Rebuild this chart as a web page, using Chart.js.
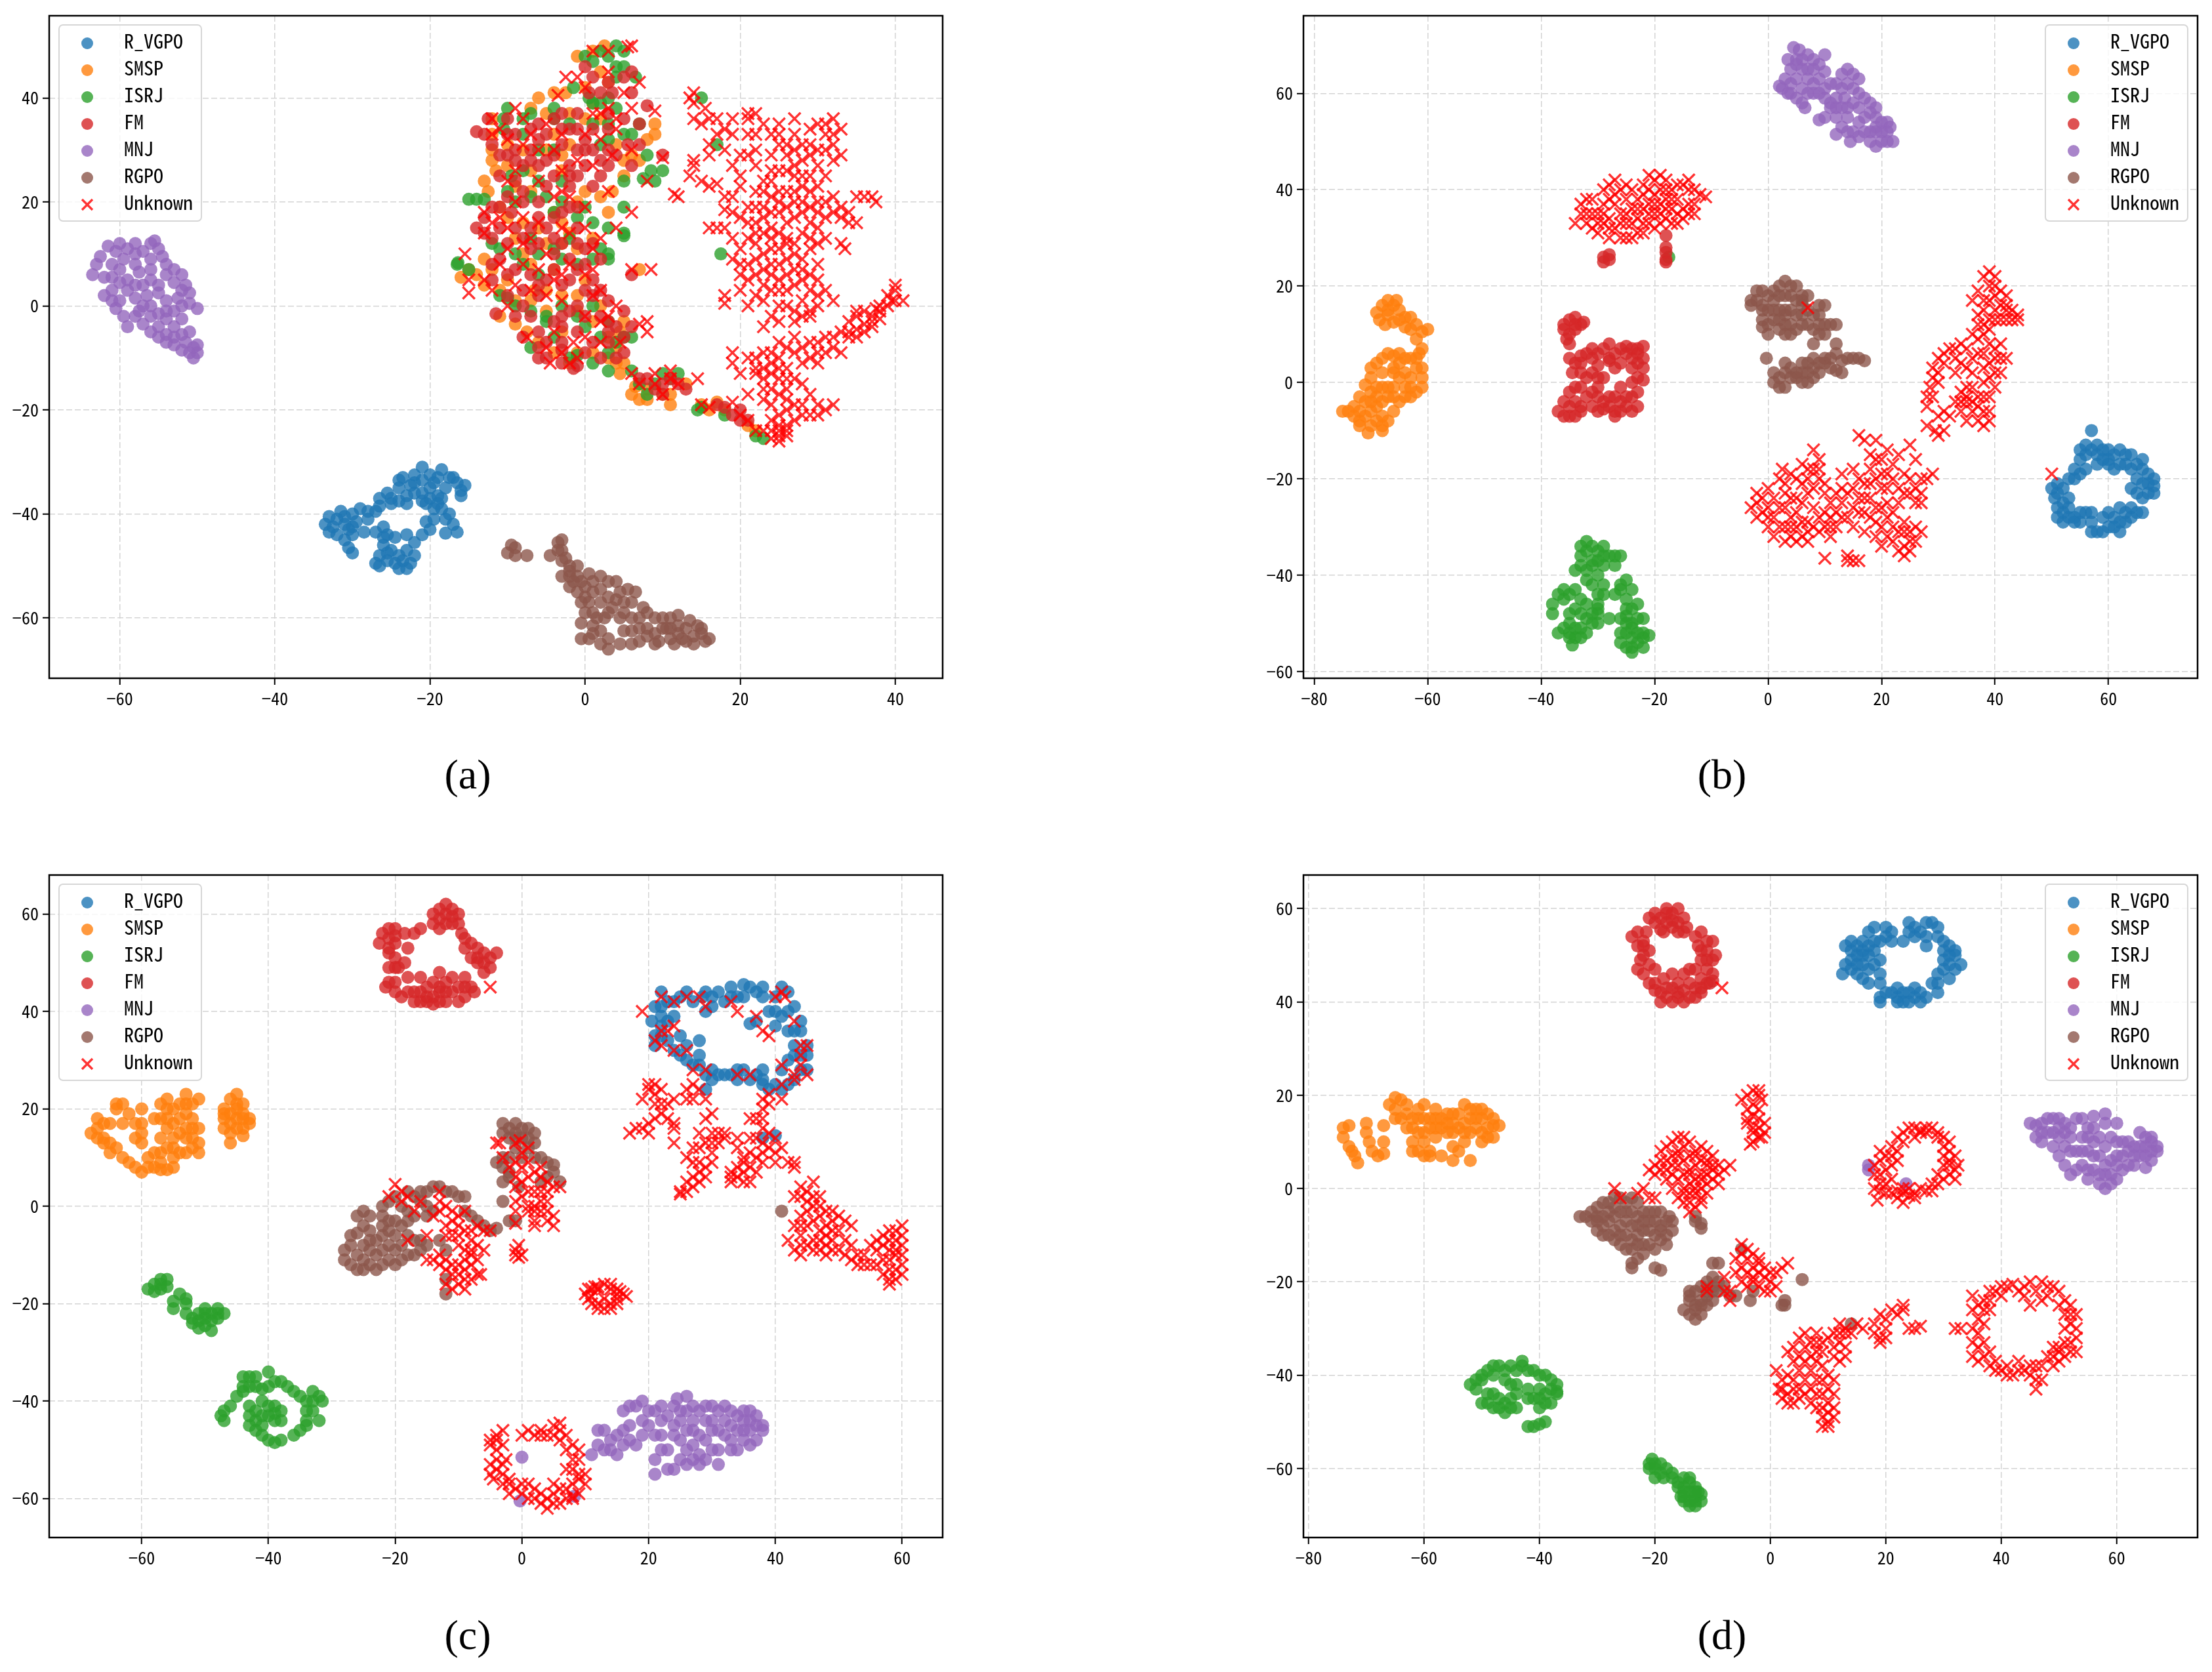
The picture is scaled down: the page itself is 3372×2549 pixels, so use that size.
<!DOCTYPE html>
<html>
<head>
<meta charset="utf-8">
<title>t-SNE panels</title>
<script src="https://cdn.jsdelivr.net/npm/chart.js@4/dist/chart.umd.min.js"></script>
<style>
    html, body { margin: 0; padding: 0; background: #fff; }
    body { position: relative; width: 3372px; height: 2549px; overflow: hidden; }
    canvas { position: absolute; }
    .caption { position: absolute; transform: translate(-50%, -50%); font: 64px 'Liberation Serif', serif; color: #000; }
</style>
</head>
<body>
<canvas id="panelA"></canvas>
<canvas id="panelB"></canvas>
<canvas id="panelC"></canvas>
<canvas id="panelD"></canvas>
<div class="caption" style="left:713px;top:1181px">(a)</div>
<div class="caption" style="left:2625px;top:1181px">(b)</div>
<div class="caption" style="left:713px;top:2493px">(c)</div>
<div class="caption" style="left:2625px;top:2493px">(d)</div>
<script>
const classLabels = ['R_VGPO', 'SMSP', 'ISRJ', 'FM', 'MNJ', 'RGPO', 'Unknown'];
const classColors = ['rgba(31,119,180,.8)', 'rgba(255,127,14,.8)', 'rgba(44,160,44,.8)', 'rgba(214,39,40,.8)', 'rgba(148,103,189,.8)', 'rgba(140,86,75,.8)', 'rgba(255,0,0,.8)'];

// Panel (a)
const aRvgpo = [[-33.5,-42],[-33,-40.5],[-33,-43.5],[-32,-41],[-32,-44],[-31.5,-39.5],[-31,-42],[-31,-45],[-30.5,-43],[-30,-40],[-30,-44],[-30.5,-46.5],[-30,-47.5],[-29.5,-41.5],[-29,-39],[-28.5,-43.5],[-28,-39.5],[-27,-39.5],[-27,-43.5],[-26,-42.5],[-25.5,-44],[-26,-46],[-26.5,-48],[-27,-49.5],[-26.5,-50],[-25.5,-49],[-25,-47],[-24.5,-44.5],[-24.5,-49.5],[-24,-50.5],[-23.5,-49],[-23,-47],[-23,-44],[-22.5,-49.5],[-22,-48],[-22,-45.5],[-21,-44],[-20,-43],[-19.5,-41],[-20.5,-41.5],[-26.5,-37],[-26.5,-38.5],[-25.5,-36],[-25,-38],[-24,-35],[-24,-37.5],[-23.5,-33],[-23,-36.5],[-22.5,-34.5],[-22,-32.5],[-22,-36],[-21,-31],[-21,-33.5],[-21,-36],[-20.5,-38],[-20,-32.5],[-20,-35],[-19.5,-39],[-19,-36.5],[-18.5,-37],[-18.5,-31.5],[-18.5,-39],[-18,-35],[-17.5,-40],[-17,-42],[-16.5,-43.5],[-18,-43.7],[-17,-33],[-16.5,-34],[-16,-35.5],[-15.5,-34.5],[-16,-36.5],[-17.5,-33],
    [-32.5,-42.5],[-31,-40.5],[-30,-42.5],[-28,-41],[-26,-44.5],[-25.5,-47.5],[-24,-48],[-23,-50.5],[-25,-37],[-24,-33.5],[-23,-38],[-22,-34],[-21,-37.5],[-20,-37],[-19.5,-34],[-19,-33],[-19,-38],[-18,-41]];
const aSmsp = [[-12,36],[-12,30],[-12,28],[-13,24],[-12.5,22],[-11,19],[-10,17],[-9,13],[-8,10],[-12,7],[-14,6],[-16,5.5],[-15,7],[-13,4],[-11,3],[-9,1],[-11,-2],[-9,-3.5],[-7.5,-5],[-6.5,3],[-6,15],[-6,40],[-7,38],[-5,30],[-3,26],[-4,18],[-2,14],[-3,12],[-1,20],[0,22],[2,21],[3.5,22],[5,25],[6,29],[7,28],[8,32],[9,35],[9,33],[7,7],[5,-3],[4.5,-5],[4,-8],[4,-11],[5,-11],[4.5,-13],[6,-17],[6.5,-15.5],[7,-18],[8,-18],[8,-16],[10,-17],[11,-19],[11,-17],[13,-15],[-1,48],[2.5,50],[1,49],[2,45],[3,43],[0,42],[1,39],[-2,37],[-2.5,41],[-4,41],[16,-20],[15,-19],[17,-18.5],[18,-20],[22,-24],[21,-23],[-1,-1],[1,-3],[-3,-5],[-1,-9],[-2,-11],[3,-6],[0,5],[-4,7],[-7,8],[-5,3],
    [-12,33],[-11.5,26],[-10,31],[-10,27],[-9,23],[-8,30],[-7,26],[-7,22],[-5,37],[-4,33],[-3,29],[-2,31],[0,36],[2,36],[4,31],[5,28],[-8,16],[-5,12],[-3,16],[-1,11],[1,13],[3,18],[-13,9],[-10,5],[-7,1],[-5,-1],[-3,2],[-1,2],[2,0],[3,-10],[1,-9],[-4,-9],[-6,-7]];
const aIsrj = [[0,48],[1,47],[2,49],[3,48],[4,50],[5,49],[4,46],[5,46],[4,44],[6.5,44],[0.5,40],[-4,38],[-1.5,42],[1,39],[2,39],[3,40],[4,38],[-10,38],[-10.5,36],[-10.5,34],[-8,36],[-4,36],[-2,35],[7,35],[3,32],[2,31],[5,33],[8,29],[8.5,26],[10,26],[9,24],[7.5,24.5],[5,24],[-6,30],[-8,33],[-9.5,25],[-8,26],[-4,30],[-15,20.5],[-14,20.5],[-13,20.5],[-10,22],[-9,20],[-3,20],[-4,18],[-1,17],[0,19],[1,16],[3,15],[5,19],[5,14],[5,13.5],[-12,12],[-11,11],[-9,10],[-7,13],[-8,8],[-6,10],[-4,11],[-3,9],[-1,8],[2,11],[3,9],[3,10],[-16.5,8],[-16.4,8.3],[-15,7],[-11,2],[-10,1.5],[-9,0],[-5,-2],[-5,-3],[0,-4],[1,0],[2,-6],[4,-7],[5,-6],[6,-6],[-7,-8],[-2,-10],[-1,-9.5],[3,-12.5],[6,-12.5],[8,-17],[12,-13],[11,-14],[15,-19.5],[14.5,-20],[17.5,10],[15,40],[17,31],[22,-25],[23,-25.5],[18,-21],
    [-7,37],[-6,24],[-3,24],[1,35],[3,35],[6,33],[-7,21],[-5,21],[-2,13],[1,9],[-6,6],[-3,0],[-1,-2],[-7,-1],[-4,-6],[1,-11],[3,-3],[3,-9],[9,-15],[10,-13],[7,-15]];
const aFm = [[-14,33.5],[-13,33],[-12,31],[-12.5,36],[-11,29],[-11,25],[-10,33],[-9,30],[-9,28],[-9,24],[-7,34],[-7,30],[-6,27],[-6,35],[-5,33],[-4,29],[-4,25],[-3,34],[-3,31],[-2,27],[-2,23],[-1,30],[-1,34],[0,27],[0,32],[1,23],[1,34],[2,28],[3,37],[3,30],[3,43],[1,44],[0,46],[0.5,41],[2,41],[3.5,41],[5,44],[6,45],[6,41],[5,36],[5.5,31],[6,27],[7,35],[8,38.5],[10,29],[-14,15],[-13,17],[-12,13],[-11,15],[-11,19],[-9.5,18],[-8,20],[-7,15],[-6,17],[-6,12],[-5,15],[-4,13],[-3,18],[-2,19],[-1,15],[-2,9],[0,8],[-11,9],[-12,8],[-12,5],[-10,6],[-8,3],[-7,6],[-6,2],[-5,5],[-4,7],[-3,4],[-2,5],[-1,7],[0,3],[1,5],[2,3],[3,1],[-11.5,-1.5],[-9,-2],[-8,-6],[-6,-5],[-6,-10],[-4,-3],[-3,-7],[-3,-8.5],[-2,-1],[-1,-5],[-1,-11.5],[-1.5,-12],[0,-2],[1,-7],[3,-3],[3,-7],[4,-4],[5,-9],[6,6],[5,-6],[7,-14],[8,-14],[9,-16],[10,-15],[10,-17],[11,-14],[12,-15],[13,-16],[17,-19],[18,-19.5],[19,-21],[20,-20],[20,-22],[21,-22],
    [-10,36],[-8,27],[-5,23],[-4,36],[-1,37],[-1,25],[2,25],[3,34],[4,29],[7,31],[-10,21],[-12,19],[-9,15],[-7,11],[-4,17],[-1,19],[1,12],[2,9],[-10,2],[-7,-2],[-5,-7],[-3,-11],[-1,0],[2,-10],[3,-5],[5,-1],[6,-4],[4,-10],
    [-9,33],[-7,28],[-3,37],[-2,34],[0,30],[1,30],[3,27],[-6,32],[-10,29],[-5,28],[-2,25],[-8,22],[-6,20],[-13,14],[-10,12],[-8,13],[-4,10],[-3,12],[-1,12],[0,11],[-9,7],[-6,4],[-3,-2],[0,-9],[2,-2],[-5,-10],[-3,-4],[1,2],[-8,0],[-6,-8]];
const aMnj = [[-63.5,6],[-63,8],[-62.5,9.5],[-61.5,11.5],[-60.5,10.5],[-59.5,9],[-59,11],[-58,12],[-57,10.5],[-56,12],[-55.5,12.5],[-55,11],[-54.5,9.5],[-56,9],[-58,8],[-60,7],[-61,5.5],[-59,5],[-57.5,6.5],[-56,7],[-54,8],[-53,7],[-52,6],[-51.5,4],[-53,4.5],[-55,4],[-57,4],[-59,3],[-61,3],[-62,2],[-60,1],[-58,1.5],[-56.5,2],[-60.5,-0.5],[-59.5,-2],[-59,-4],[-57,-3.5],[-57.5,-1],[-56,0],[-55,-1.5],[-55,-4],[-54,-2.5],[-53,-1],[-54,1],[-52.5,1.5],[-51,0.5],[-50,-0.5],[-51,2.5],[-52,-2.5],[-53,-4],[-55,-6],[-54,-5.5],[-52,-5.5],[-53,-7.5],[-51.5,-7],[-50.5,-8],[-50,-9],[-51,-9],[-52,-8.5],[-50,-7.5],[-50.5,-10],[-56,-5],
    [-62,5.5],[-61,8],[-60,12],[-58,10],[-56,5],[-54,6],[-58,4],[-60,4.5],[-61,1],[-58,-2],[-56,-2],[-57,0],[-54,-1],[-52,0],[-52,3],[-53,-6],[-54,-7],[-51,-5],[-55,2.5]];
const aRgpo = [[-10,-47.5],[-9.5,-46],[-9,-48],[-9,-46.5],[-7.5,-48],[-4.5,-48],[-3.5,-47],[-3.5,-45.5],[-3,-45],[-3,-47],[-3,-49],[-2.5,-48.5],[-2,-50],[-3,-52],[-2,-52],[-1,-50],[-1,-52],[-2,-54],[-1,-55],[-0.5,-53],[-0.5,-57],[0.5,-51.5],[1,-53],[1,-55],[0.5,-57],[1,-59],[0,-59],[2,-52],[2,-54.5],[2,-57],[2.5,-60],[3,-53],[3,-56],[3.5,-58],[4,-53],[4.5,-55],[4.5,-60],[5,-57],[5.5,-54.5],[6,-57],[6,-60],[6.5,-55],[7,-62],[7.5,-58],[8,-59],[8,-62],[9,-60],[9,-63],[10,-60],[10.5,-62],[11,-60],[11,-64],[12,-59.5],[12,-61.5],[12.5,-64],[13,-62],[13.5,-60.5],[14,-63.5],[14.5,-61.5],[15,-63],[15.5,-64.5],[16,-64],[-0.5,-64],[-0.5,-61],[0.5,-64],[1,-61.5],[2,-65],[3,-66],[3,-64],[4.5,-65],[5,-62.5],[6,-65],[9,-65],[9.5,-64.5],[11.5,-65],[14,-65],
    [-2,-51],[-1.5,-53],[0,-54],[0,-56],[1.5,-60],[3,-59],[4,-56.5],[5,-59],[7,-60],[8,-63.5],[10,-62],[12,-63],[13,-64.5],[15,-62],[1,-63],[2,-62.5],[6,-62.5],[7,-64.5],[11,-62]];
const aUnknown = [[1,49],[3,49],[6,50],[5.5,49.8],[-2.5,44],[0,42],[-3.5,40.5],[-1,44],[1,37],[3,38],[4,36],[7,43],[6,38],[9,37.5],[-12,33],[-12,36],[-10,32],[-9,38],[-8,36],[-7,33],[-5,35],[-4,30],[-3,26],[-1,28],[1,27],[2,32],[3.5,29],[4,34],[6,30],[8,24],[-9,20],[-8,17],[-11,17],[-12,16],[-13,18],[-10,15],[-7,13],[-6,16],[-4,21],[-3,15],[-2,21],[0,15],[2,13],[4,15],[6,18],[-15.5,10],[-15,5],[-15,2.5],[-13,5],[-11,8],[-9,4],[-8,8],[-6,7],[-5,2],[-4,5],[-3,6],[-2,8],[0,6],[1,7],[2,3],[4,0],[6,7],[8.5,7],[7,-3.5],[8,-5],[8,-3],[4.5,-7],[2,-7],[-1,-10],[-1.5,-7],[-2,-11],[-4.5,-11],[-5,-8],[-7.5,-6],[0,-2],[2,-3],[6,-13],[7,-15],[9,-13],[9,-15],[10,-17],[11,-12.5],[11,-14],[12,-15],[14.5,-14],[15,-19],[16,-19.5],[19,-18.5],[20,-21],[21,-22],[22,-24],[23,-24],[10,28.5],[11.5,21.5],[12,21],
    [14,41],[14,39],[13.5,40],[14,36],[15.5,38],[16,36],[17,33],[16,31],[16,29],[18,34],[19,36],[19,33],[21,37],[21,36],[22,37],[22,30],[20,29],[21,29],[19,27],[21,33],[24,33],[25,35],[25,33],[25,31],[27,36],[27,33],[28,31],[29,31],[30,35],[31,33],[31,35],[32,33],[32,36],[33,34],[30,30],[31,30],[32,28],[32,31],[29,34],[14,28],[14,27],[13.5,25],[15,24],[17,23.5],[16,23],[16,15],[17,15],[18,21],[18,18.5],[19,18],[20,17],[21,16],[21,19],[22,14],[22,12],[23,19],[23,22],[24,21],[25,22],[25,18],[26,22],[26,26],[27,27],[28,25],[27,22],[27,20],[28,18],[29,25],[30,23],[31,25],[30,18],[31,17],[32,18],[33,17],[34,18],[35,21],[36,21],[37,21],[37.5,20],[35,16],[33,12],[33.5,11],[31,13],[30,12],[24,18],[23,14],[25,14],[25,11],[24,8],[26,9],[27,12],[28,14],[28,9],[29,11],[30,8],[20,8],[21,8],[21,5],[22,6],[23,4],[24,6],[25,3],[26,6],[27,4],[28,7],[29,3],[30,2],[31,3],[32,1],[26,0],[27,-1],[27,-3],[29,-2],[29,-1],[30,0],[24,-2],[18,2],[18,0.5],[22,2],[20,3],
    [19,-9],[19,-11],[20,-13],[21,-10],[22,-12],[23,-9],[23,-14],[24,-11],[25,-14],[25,-10],[26,-16],[26,-12],[27,-9],[27,-14],[28,-8],[28,-11],[29,-17],[29,-10],[30,-7],[30,-11],[31,-9],[32,-6],[33,-9],[33,-5],[34,-3],[34,-6],[35,-2],[35,-4.5],[36,-1],[36,-3.5],[37,-2],[37,-4],[38,-1],[38,-2.5],[39,0],[39.5,1],[40,3],[40,1],[41,1],[40,4],[36,-5],[35,-1],[37.5,-0.5],[22,-13],[23,-16],[24,-19],[24,-16],[25,-17],[26,-20],[27,-19],[27,-22],[28,-21],[29,-21],[30,-21],[32,-19],[31,-20],[25,-25],[25,-24],[25,-26],[24,-24],[26,-25],[26,-23],[24,-25.5],[25,-23],[21,-17],
    [19,21],[20,23],[22,22],[22,19],[23,24],[24,24],[24,26],[25,26],[26,29],[27,30],[28,28],[27,25],[28,23],[29,22],[25,20],[26,19],[26,16],[27,17],[28,20],[29,19],[29,16],[24,15],[23,17],[22,16],[21,13],[20,11],[19,9],[20,6],[22,9],[23,10],[23,7],[24,11],[25,8],[26,12],[27,7],[27,10],[28,5],[29,6],[30,5],[26,3],[24,3],[23,1],[25,0],[28,1],[28,-2],[25,-3],[30,20],[32,21],[33,19],[34,16],[30,27],[33,29],[29,29],[26,31],[23,35],[22,33],[18,30],[17,36],[15,35],[23,-12],[24,-13],[24,-9],[25,-7],[26,-8],[27,-6],[25,-12],[26,-14],[23,-18],[26,-18],[28,-15],[22,-10],[29,-7],[30,-9],[31,-6],[32,-8],[34,-5],[35,-6],[37,-3],[38,0],[39,2],[25,-21],[26,-24],[24,-22],[28,-19],[30,-19],
    [-11,34],[-8,31],[-6,30],[-3,33],[0,33],[2,37],[5,41],[3,45],[-10,24],[-9,26],[-6,24],[-3,22],[0,19],[3,22],[-13,14],[-10,11],[-8,12],[-5,10],[-2,14],[1,11],[-12,3],[-10,0],[-7,3],[-3,1],[1,2],[3,-2],[-4,-5],[-3,-9],[0,-6],[22,27],[24,29],[20,25],[18,15],[19,13],[24,13],[25,5],[26,13],[31,20],[29,13],[30,15],[23,-4],[21,0]];

// Panel (b)
const bRvgpo = [[50,-22],[50.5,-24],[51,-21],[51,-26],[51,-28],[52,-22],[52,-25],[52,-29],[53,-20],[53,-24],[53,-28],[54,-18],[54,-28],[55,-19],[55,-14],[55,-29],[56,-15],[56,-18],[56,-27],[57,-10],[57,-14],[57,-29],[58,-13],[58,-17],[58,-31],[59,-16],[59,-28],[59,-31],[60,-14],[60,-17],[60,-27],[60,-30],[61,-15],[61,-18],[61,-30],[62,-14],[62,-17],[62,-29],[62,-26],[63,-17],[63,-27],[64,-15],[64,-18],[64,-22],[64,-26],[65,-17],[65,-20],[65,-23],[65,-27],[66,-18],[66,-21],[66,-24],[66,-27],[67,-19],[67,-23],[68,-20],[68,-21.5],[67,-21],[68,-23],
    [51,-23],[52,-27],[53,-26],[54,-29],[55,-27],[57,-27],[57,-31],[58,-15],[59,-14],[60,-16],[61,-28],[62,-31],[63,-15],[63,-29],[64,-28],[66,-16],[56,-13],[55,-16],[54,-20]];
const bSmsp = [[-69,14.5],[-68.5,13],[-68,16],[-67,15],[-67,17],[-66,16],[-65.5,17],[-65,15],[-67.5,12],[-66,12.5],[-65,13],[-64,11.5],[-63,13.5],[-63,11],[-62,12],[-62,9],[-61,10.5],[-60,11],[-61,7],[-61.5,6],[-64,5],[-66,5.5],[-67,6],[-68,5],[-69,4],[-70,3],[-65,4],[-63,5],[-62,3],[-61,3],[-61,1],[-61,-1],[-62,-2],[-63,1],[-64,-1],[-63,-3],[-65,1],[-66,3],[-68,2],[-70,1],[-71,-0.5],[-72,-3],[-71,-4],[-70,-2],[-68,-1],[-66,-1],[-65,-4],[-66,-6],[-67,-8],[-69,-5],[-69,-8],[-70,-9],[-71,-7],[-72,-6],[-73,-5],[-72,-8],[-74,-6],[-75,-6],[-70.5,-10.5],[-72,-9],[-68,-10],[-68,-7],[-67,-3],[-69,-3],
    [-67,14],[-64,13.5],[-66,2],[-64,2],[-67,-1],[-66,-3],[-68,-4],[-64,-3],[-70,-6],[-69,-1],[-62,5],[-68,-9],[-63,-1],[-65,6],[-70,-4],[-73,-7]];
const bIsrj = [[-33,-34],[-32,-33],[-31,-34],[-30,-35],[-29,-34],[-29,-36],[-28,-36],[-27,-36],[-26,-36],[-27,-38],[-29,-38],[-31,-37],[-31,-38],[-33,-38],[-34,-39],[-32,-39],[-30,-40],[-31,-42],[-29,-42],[-30,-44],[-36,-43],[-35,-44],[-36,-45],[-34,-43],[-25,-41],[-26,-43],[-27,-44],[-25,-45],[-24,-43],[-38,-46],[-38,-48],[-33,-45],[-32,-46],[-30,-47],[-32,-49],[-30,-50],[-33,-51],[-35,-50],[-36,-51],[-37,-52],[-35,-53],[-34,-53],[-34,-51],[-32,-52],[-33,-48],[-31,-50],[-34.5,-54.5],[-28,-49],[-25,-47],[-24,-47],[-23,-46],[-22,-49],[-22,-52],[-24,-50],[-25,-52],[-26,-52],[-26,-54],[-25,-55],[-24,-56],[-23,-54],[-23,-52],[-22,-55],[-24,-53],[-25,-48.5],[-21,-52.5],[-30,-46],[-17.5,26],
    [-32,-35],[-30,-37],[-33,-36],[-32,-41],[-29,-44],[-34,-47],[-35,-48],[-31,-48],[-33,-53],[-30,-48],[-35,-52],[-26,-42],[-24,-51],[-25,-50],[-23,-49],[-26,-49],[-22,-53],[-24,-55],[-37,-44]];
const bFm = [[-36,12],[-35,13],[-34,13.5],[-33,12],[-34,11],[-35,10],[-35.5,9],[-35,8],[-36,11],[-32.5,12.5],[-35,5],[-34,4],[-34.5,2],[-33,5.5],[-32,6],[-31,5],[-30,6],[-29,7],[-28,8],[-27,6],[-26,7],[-25,7.5],[-24,7],[-23,7],[-22,7.5],[-22,5],[-23,4],[-22,3],[-24,5],[-26,4],[-28,4.5],[-30,3.5],[-31,2],[-33,2],[-29,1],[-32,1],[-23,1],[-22,0.5],[-24,0],[-34,-1],[-35,-2],[-36,-4],[-37,-6],[-36,-7],[-35,-5],[-34,-7],[-33,-5],[-32,-3],[-33,-1],[-31,-2],[-30,-3],[-29,-4],[-29,-5.5],[-28,-3],[-27,-6],[-27,-7],[-26,-4],[-25,-5],[-24,-6],[-24,-3],[-25,-3],[-23,-5],[-23,-2],[-29,25],[-29,26],[-28,25.5],[-28,26.5],[-18,25.5],[-18,25],[-18,27],[-18,28],[-18,30.5],
    [-30,-1],[-28,5],[-31,7],[-24,3],[-33,4],[-27,3],[-25,6],[-23,6],[-34,-4],[-31,-5],[-35,-7],[-30,-6],[-26,-6],[-28,-5],[-33,-6],[-27,-3],[-34,12],[-26,-1],[-30,1]];
const bMnj = [[4.5,69.5],[5.5,69],[7,68],[6,67],[3.5,67],[4,65],[5,66],[7,65],[8,67],[10,68],[9,66],[10,64.5],[9,63],[7,63],[5,63],[3,63],[2.5,61],[2,61.5],[4,62],[3.5,60],[5,59],[6,58],[6.5,57],[8,60],[10,61],[12,62],[13,64],[14,65],[15,64],[16,63],[15,61],[13.5,59],[12,59],[11,57],[10,55],[9,54.5],[12,55],[13,57],[14,55],[15,58],[16,60],[17,59],[18,58],[18,56],[19,55],[20,54],[21,54],[21,52],[20,50],[19,49],[18,50],[17,52],[16,54],[14,52],[13,53],[12,51.5],[14.5,50],[16,51],[21,50],[22,50],[21.5,53],[19,52],[11,58],[8,62],
    [5,67],[6,65],[8,65],[7,60],[6,61],[4,60],[10,59],[11,62],[13,61],[14,62],[16,57],[14,57],[17,55],[19,57],[19,53],[15,52],[18,52],[20,52],[12,57],[9,60]];
const bRgpo = [[-3,16],[-3,17],[-2,19],[-1,19],[-2,17],[-1,15],[-1,13],[-1,11.5],[0,15],[0,18],[0,10],[1,13],[1,17],[2,20],[3,21],[4,20],[5,20],[4,18],[3,15],[4,12],[3,10],[5,14],[5,11],[2,11],[6,17],[6,18],[6,16],[7,18],[9,16],[10,16],[9,14],[10,12],[8,11],[7,12],[6,12],[11,12],[12,12],[10,10],[9,10],[-0.3,5],[8,8],[12,8],[1,2],[1,0],[2,-1],[3,-1],[3,2],[3,4],[5,1],[4,3],[6,2],[7,0],[7,4],[8,3],[9,2],[10,5],[10,4],[11,3],[12,2.5],[13,4.5],[13,2],[14,5],[15,5],[16,5],[17,4.5],[12,6],[8,5],
    [2,15],[2,18],[3,18],[1,15],[4,15],[3,12],[5,17],[0,12],[-1,16],[5,2],[4,1],[6,0],[6,4],[9,4],[2,1],[7,2],[11,5],[8,1],[9,12],[8,14],[1,19],[3,14],[4,10],[2,13],[6,14],[7,15]];
const bUnknown = [[-34,33],[-33,35],[-33,37],[-32,38],[-31,38],[-31,35],[-32,33],[-31,32],[-30,35],[-30,31],[-29,33],[-29,37],[-29,40],[-28,41],[-27,42],[-27,39],[-27,37],[-28,34],[-27,32],[-26,30],[-26,35],[-25,38],[-25,33],[-24,36],[-24,40],[-24,30],[-23,34],[-23,38],[-22,41],[-22,31],[-21,43],[-21,37],[-21,33],[-20,42],[-20,39],[-20,35],[-20,32],[-19,40],[-19,43],[-19,37],[-18,42],[-18,34],[-18,38],[-17,40],[-17,36],[-16,33],[-16,38],[-15,36],[-15,34],[-15,41],[-14,42],[-14,37],[-13,40],[-13,35],[-12,39],[-11,38.5],[-25,30],[-28,30],[-22,36],
    [28,-9],[28,-5],[28,-3],[28.5,-1],[29,1],[29,3],[30,-7],[29.5,-10],[30,-11],[31,-10],[31,-6],[30,5],[30,2],[31,6],[31,4],[32,7],[33,7],[33,5],[34,8],[34,4],[35,7],[36,5],[36,2],[34,-2],[33,-4],[35,-4],[36,-6],[34,-6],[32,-7],[35,-1],[37,-3],[37,-8],[38,-9],[39,-8],[39,-6],[39,-3],[38,0],[40,-1],[41,2],[40,5],[41,5],[42,5],[39,4],[38,3],[37,6],[37,9],[38,10],[39,8],[41,8],[36,10],[37,12],[37,14],[38,15],[38,17],[36,17],[37,19],[39,13],[39,17],[39,20],[38,22],[39,23],[40,22],[40,20],[41,19],[41,16],[42,18],[43,15],[43,13],[44,14],[44,13],[42,13],[39,11],[35,-8],
    [-3,-26],[-2,-25],[-2,-28],[-1,-27],[-1,-24],[0,-26],[0,-22],[0,-30],[1,-28],[1,-24],[1,-32],[2,-30],[2,-20],[2,-26],[2.5,-18],[3,-23],[3,-33],[3,-30],[4,-19],[4,-28],[4,-32],[5,-27],[5,-30],[5,-33],[5,-20],[6,-17],[6,-21],[6,-29],[7,-18],[7,-31],[7,-33],[8,-14],[8,-18],[8,-22],[9,-16],[9,-20],[9,-31],[10,-21],[10,-27],[10,-30],[10,-36.5],[11,-28],[11,-32],[12,-23],[12,-30],[13,-19],[13,-25],[14,-28],[14,-36],[14,-37],[15,-18],[15,-22],[15,-30],[15,-37],[16,-11],[16,-20],[16,-27],[16,-37],[17,-12],[17,-21],[17,-31],[18,-15],[18,-18],[18,-24],[18,-28],[19,-12],[19,-20],[19,-26],[19,-32],[20,-16],[20,-22],[20,-30],[20,-34],[21,-14],[21,-19],[21,-25],[21,-32],[22,-20],[22,-27],[22,-33],[23,-15],[23,-22],[23,-31],[24,-19],[24,-34],[24,-36],[25,-13],[25,-20],[25,-23],[25,-31],[25,-35],[26,-16],[26,-22],[26,-25],[26,-33],[27,-20],[27,-31],[27,-23],[27,-25],[29,-19],[28,-20],[7,15.5],[50,-19],
    [-32,35],[-30,33],[-29,35],[-28,38],[-26,33],[-26,40],[-25,35],[-25,41],[-24,33],[-23,31],[-23,36],[-22,33],[-22,39],[-21,35],[-21,40],[-20,37],[-19,33],[-19,35],[-18,36],[-18,40],[-17,33],[-17,38],[-16,35],[-16,41],[-14,35],[-14,40],[-13,37],[-28,32],
    [29,-3],[30,0],[33,2],[35,3],[35,-3],[36,-1],[37,-5],[38,-3],[38,-6],[40,2],[40,7],[39,1],[38,6],[38,12],[40,13],[40,15],[40,18],[42,15],[41,13],[42,16],[34,-4],[36,-4],
    [-2,-23],[0,-28],[3,-26],[4,-24],[4,-30],[6,-25],[6,-32],[7,-20],[7,-29],[8,-30],[9,-18],[10,-23],[11,-30],[12,-27],[14,-23],[16,-24],[17,-24],[18,-21],[19,-29],[20,-19],[20,-26],[21,-28],[22,-17],[22,-30],[23,-25],[23,-35],[24,-29],[24,-31],[25,-33],[26,-30],[24,-23],[19,-16],[21,-22],[3,-21],[5,-24],[8,-26],[9,-28],[13,-28],[15,-26],[17,-27],[13,-22],[11,-25],[7,-23]];

// Panel (c)
const cRvgpo = [[20.5,38],[21,35],[21,41],[21,33],[22,37],[22,39],[22,41],[22,44],[23,34],[23,42],[24,32],[24,39],[25,31],[25,43],[26,30],[26,33],[27,29],[27,42],[28,29],[28,34],[28.5,43],[29,27],[29,24],[29,40],[30,28],[30,43],[31,44],[31,27],[32,27],[32,42],[33,27],[33,45],[34,26],[34,43],[35,28],[35,45.5],[36,26],[36,45],[36,37.5],[37,27],[37,44],[37,38],[38,25],[38,28],[38,43],[39,24],[39,40],[40,25],[40,43],[40,37],[41,24],[41,28],[41,45],[41,39],[42,30],[42,36],[42,40],[43,26],[43,31],[43,36],[43,41],[44,28],[44,31],[44,36],[44,38],[45,28],[45,31],[45,33],[40,14.5],[38,14],
    [22,35],[23,38],[24,42],[26,44],[29,44],[30,41],[33,43],[35,43],[38,45],[40,40],[42,44],[43,33],[30,26],[34,28],[28,31],[25,35],[38,26],[42,25]];
const cSmsp = [[-68,15],[-67,14],[-67,18],[-66,14],[-66,13],[-66,17],[-65,17],[-65,11],[-64,21],[-64,20],[-63,21],[-63,10],[-62,9],[-61,14],[-61,17],[-63,17],[-60,15],[-60,13],[-60,17],[-60,20],[-60,7],[-61,8],[-59,8],[-58,8],[-57,9],[-57,7.5],[-56,7.5],[-55,8],[-57,11],[-56,12],[-55,10],[-57,18],[-57,21],[-56,22],[-55,20],[-55,14],[-55,17],[-54,21],[-54,18],[-54,15],[-54,11],[-53,23],[-53,19],[-53,16],[-52,21],[-52,14],[-52,18],[-51,22],[-51,16],[-51,13],[-51,11],[-47,20],[-47,18],[-46,22],[-46,17],[-46,15],[-45,23],[-45,20],[-45,18],[-44,21],[-44,16],[-44,19],[-43,18],[-43,17],[-46,13],[-47,16],[-44,14.5],
    [-53,14],[-52,12],[-53,11],[-52,16],[-45,16],[-45,21],[-46,19],[-44,18],[-47,19],[-55,12],[-53,21],[-67,16],[-56,20],[-64,12],[-62,19],[-65,13],[-59,10],[-58,11],[-56,16],[-56,18],[-57,14],[-58,18]];
const cIsrj = [[-59,-17],[-58,-16],[-58,-17.5],[-57,-15],[-57,-17],[-56,-15],[-56,-16.5],[-55,-19.5],[-55,-21],[-54,-18],[-53,-20],[-53,-19],[-53,-22],[-52,-23],[-51,-22],[-51,-25],[-50,-21],[-50,-23],[-50,-24.5],[-49,-22],[-49,-25.5],[-48,-22],[-48,-21],[-48,-23],[-47,-22],[-52,-24],[-47.5,-43],[-47,-42],[-47,-44],[-46,-41],[-45,-39],[-44,-38],[-44,-35],[-43,-37],[-43,-35],[-42,-37],[-40,-34],[-40,-37],[-39,-36],[-38,-36],[-37,-37],[-36,-38],[-35,-39],[-34,-40],[-33,-38],[-33,-40],[-32,-39],[-31.5,-40],[-33,-42],[-34,-42],[-32,-44],[-34,-44],[-35,-46],[-34,-45],[-43,-41],[-43,-43],[-42,-44],[-42,-46],[-41,-45],[-41,-40],[-40,-41],[-40,-43],[-39,-41],[-39,-44],[-38,-42],[-38,-44],[-40,-48],[-39,-48.5],[-38,-48],[-36,-47],
    [-50,-22],[-51,-23.5],[-49,-23.5],[-57,-16],[-44,-37],[-42,-35],[-41,-37.5],[-42,-42],[-41,-43],[-39,-42.5],[-43,-45],[-41,-47]];
const cFm = [[-22.5,54],[-22,56],[-21,57],[-21,55],[-21,52],[-20,57],[-20,54],[-20,51],[-21,49],[-19.5,49],[-18.5,56],[-18,53],[-18.5,50],[-17,56],[-16,57],[-14,58],[-14,60],[-13,61],[-13,59],[-12,62],[-12,60],[-11,61],[-11,58],[-10,60],[-10,58],[-9.5,56],[-9,55],[-9,53],[-8,54],[-8,51],[-7,53],[-7,50],[-6,52],[-6,50],[-5,51],[-4,52],[-5,49],[-21.5,45],[-21,46],[-20,46],[-20,44],[-19,43],[-18,47],[-18,44],[-17,42],[-16,44],[-16,47],[-15,45],[-15,42],[-14,46],[-14,43],[-13,48],[-13,45],[-13,42],[-12,42],[-12,46],[-11,44],[-11,47],[-10,42],[-10,45],[-9,47],[-9,43],[-8,45],[-7.5,44],
    [-21,53],[-20,49],[-20,55.5],[-12,58],[-13,57],[-11,59.5],[-15,43],[-14,41.5],[-13,44],[-12,44],[-17,44],[-9,45],[-7,51],[-6,48],[-16,42]];
const cMnj = [[11,-51],[12,-49],[12,-46],[13,-50],[13,-46],[14,-48],[15,-47],[15,-51],[16,-49],[16,-42],[17,-48],[18,-41],[18,-49],[19,-40],[19,-47],[20,-45],[21,-42],[21,-55],[22,-41],[22,-44],[23,-43],[23,-54],[24,-45],[24,-41],[24.5,-39.5],[24,-54],[25,-44],[25,-48],[25,-52],[26,-39],[26,-42],[26,-46],[26,-50],[26,-53],[27,-41],[27,-44],[27,-49],[28,-47],[28,-51],[29,-44],[29,-48],[29,-52],[30,-41],[30,-46],[31,-42],[31,-46],[31,-50],[32,-44],[33,-42],[33,-48],[33,-50],[34,-43],[34,-46],[34,-50],[35,-44],[35,-48],[36,-42],[36,-46],[36,-49],[37,-43],[37,-45],[37,-48],[38,-45],[38,-46],[22,-50],[21,-52],[0,-51.5],[-0.3,-60.5],[8.3,-59.5],
    [25,-42],[27,-46],[28,-42],[30,-44],[32,-47],[33,-45],[35,-46],[35,-42],[36,-44],[24,-47],[30,-50],[31,-53],[27,-52],[28,-53],[32,-41],[29,-41],[14,-50],[17,-45],[16,-46],[19,-44],[21,-47],[22,-47],[23,-50],[20,-42],[17,-41]];
const cRgpo = [[-28,-9],[-28,-11],[-27,-8],[-27,-12],[-27,-6],[-26,-10],[-26,-5.5],[-26,-2],[-25,-8],[-25,-11],[-25,-13],[-25,-1],[-24,-9],[-24,-12],[-24,-2],[-24,-5],[-23,-7],[-23,-10],[-23,-13],[-22,-9],[-22,0],[-22,-2],[-22,-12],[-21,-5],[-21,-8],[-21,-11],[-21,1],[-20,-3],[-20,-6],[-20,-9],[-20,2],[-19,-4],[-19,-8],[-19,-11],[-18,-1],[-18,-6],[-18,-10],[-18,3],[-17,-2],[-17,-7],[-17,-10],[-16,1],[-16,-7],[-16,-9],[-15,3],[-15,-2],[-15,-8],[-14,4],[-14,-1],[-13,4],[-13,-7],[-12,3],[-12,-9],[-12,-18],[-12,-15],[-11,3],[-10,2],[-9,2],[-9,-1],[-8,-2],[-7,-3],[-6,-4],[-5,-5],[-4,-4.5],[-3,17],[-3,15],[-2,16],[-2,14],[-1,17],[-1,15],[0,16],[1,16],[1,14],[2,15],[2,13],[1,12],[-1,12],[0,10],[-4,9],[-3,8],[-3,10],[-2,7],[-2,6],[2,10],[3,10],[4,9],[5,8.5],[5,7],[6,5],[4,6],[3,5],[-3,1],[-2,-3],[-1,-3],[-0.5,4],[41,-1],
    [-24,-7],[-22,-6],[-20,-12],[-19,0],[-18,-3],[-17,2],[-16,3],[-15,0],[-26,-13],[-25,-4],[-22,-4],[-21,-3],[0,14],[-1,14],[-2,10],[-3,5]];
const cUnknown = [[-5,-49],[-5,-48],[-4,-47],[-4,-50],[-3,-46],[-3,-49],[-3,-53],[-2.5,-52],[-5,-55],[-4.5,-56],[-4,-54],[-3,-57],[-2,-56],[-1,-58],[0,-59],[-2,-59],[1,-57],[2,-60],[2,-58],[0,-47],[2,-47],[3,-46],[4,-47],[5,-45],[5,-47],[6,-46],[6,-48],[7,-47],[8,-49],[8,-52],[8,-54],[9,-52],[8,-57],[9,-56],[10,-57],[10,-55],[9,-59],[7,-58],[6,-61],[5,-61],[4,-62],[5,-57],[3,-59],[6,-58],[4,-60],[8,-60],
    [10,-18],[10.5,-19],[11,-17],[11,-20],[12,-17],[12,-20],[13,-16],[13,-21],[14,-17],[14,-20],[15,-17],[15,-19],[16,-18],[16.5,-18.5],[15,-20],[12,-16.5],[13,-19],
    [-21,2],[-20,4.5],[-19,3],[-19,1],[-18,2],[-17,-1],[-18,-7],[-16,1],[-15,-6],[-14,-2],[-13,-1],[-13,3],[-12,0],[-12,-4],[-11,-6],[-11,-3],[-10,-4],[-10,-8],[-10,-2],[-9,-5],[-9,-9],[-8,-5],[-8,-9],[-7,-4],[-7,-11],[-6,-9],[-6,-5],[-5,-5],[-15,-11],[-14,-11],[-13,-12],[-12,-11],[-12,-16],[-11,-12],[-11,-17],[-10,-14],[-10,-16],[-9,-13],[-9,-17],[-8,-10],[-8,-15],[-7,-14],[-6.5,-14],
    [-4,13],[-3,10],[-1,13],[-2,8],[-1,6],[-1,4],[-1,1],[-1,-3.5],[0,8],[0,5],[0,2],[1,9],[1,3],[1,-1],[2,7],[2,0],[2,-4],[2,-3],[3,6],[3,3],[3,-1],[3,1],[4,5],[4,1],[4,-3],[5,4],[5,-2],[5,-4],[6,4],[-1,-9],[-1,-10],[-0.5,-8],[0,-10],[-0.5,-10.5],[1,12],[-5,45],[-3.5,13],[-0.3,13.5],
    [19,40],[22,43],[22,36],[21,34],[24,42],[22,33],[24,37],[23,36],[24,32],[26,43],[26,32],[27,28],[28,43],[29,41],[29,28],[33,42],[34,27],[34,40],[36,27],[37,39],[38,36],[39,35],[40,43],[41,44],[41,29],[41,25],[41.5,43],[43,38],[44,31],[44,29],[44,33],[45,33],[45,27],[43,26],[43,27],
    [17,15],[18,16],[19,16],[19,22],[20,25],[20,24],[20,17],[20,15],[21,21],[21,25],[21,18],[22,21],[22,19],[23,21],[24,17],[24,22],[24,13],[24,16],[25,3],[25,2.5],[26,3],[26,22],[26,24],[27,4],[27,9],[27,22],[27,25],[28,5],[28,9],[28,12],[28,15],[28,24],[29,6],[29,8],[29,13],[29,18],[29,22],[30,11],[30,15],[30,13],[31,15],[32,14],[33,7],[33,6],[33,5],[34,6],[34,12],[35,7],[35,9],[36,5],[36,8],[36,11],[36,18],[37,18],[37,10],[37,14],[38,9],[38,16],[38,13],[39,12],[39,15],[38,22],[38,20],[39,21],[39,23],[40,14],[40,11],[41,12],[42,9],[43,9],[43,8],[41,22],
    [43,2],[43,-4],[42,-7],[43,-9],[44,-6],[44,-10],[44,4],[44,2],[44,-2],[45,-4],[45,-8],[45,3],[46,5],[46,0],[46,-3],[46,-7],[47,2],[47,-2],[47,-5],[47,-9],[48,-1],[48,-6],[48,-10],[49,-3],[49,-7],[50,-2],[50,-9],[51,-3],[51,-7],[51,-10],[52,-4],[52,-11],[53,-12],[54,-10],[55,-8],[55,-12],[56,-9],[56,-7],[57,-6],[57,-11],[57,-14],[58,-9],[58,-13],[58,-16],[59,-7],[59,-10],[59,-13],[59,-15],[60,-4],[60,-6],[60,-8],[60,-10],[60,-12],[58,-11],
    [-4,-52],[-4,-48],[-2,-57],[0,-57],[1,-60],[3,-61],[-5,-53],[-3,-55],[1,-46],[7,-50],[7,-54],[9,-50],[9,-55],[8,-59.5],[5,-59],[7,-60],[3,-47],[6,-44.5],[10.5,-17],[11.5,-16.5],[14,-21],[15.5,-17.5],[15,-18],[11,-18.5],[12,-21],[14,-16],
    [-13,1],[-11,-1],[-9,-1],[-12,-6],[-10,-6],[-8,-7],[-9,-11],[-10,-12],[-12,-13],[-11,-14],[-9,-15],[-8,-12],[-7,-8],[-13,-10],[-1,9],[0,11],[1,6],[2,3],[3,8],[2,-1],[1,0],[4,3],[-1,-1],[4,-1],
    [21,23],[23,18],[22,24],[27,12],[26,10],[27,6],[30,9],[31,13],[32,15],[34,8],[35,10],[35,5],[36,14],[37,7],[38,11],[40,9],[38,18],[34,14],[30,19],[28,7],[26,5],
    [44,-4],[44,-8],[45,-1],[45,1],[46,2],[46,-9],[47,0],[47,-7],[48,-4],[48,-8],[49,-1],[49,-5],[49,-9],[50,-5],[52,-8],[53,-10],[54,-12],[58,-5],[59,-5],[59,-9],[58,-7],[57,-8],[60,-14],[56,-12],[58,-15]];

// Panel (d)
const dRvgpo = [[12.5,46],[13,52],[14,47],[14,51],[14,53],[15,50],[15,46],[16,53],[16,48],[17,47],[17,50],[17,55],[18,56],[18,51],[18,53],[19,46],[19,49],[19,44],[19,41],[19,40],[20,54],[20,42],[21,42],[21,55],[22,40],[22,43],[23,42],[23,40],[24,55],[24,57],[24,42],[25,56],[25,54],[25,41],[26,42],[27,57],[27,54],[27,41],[28,57],[28,44],[29,54],[29,44],[30,53],[30,51],[31,45],[31,50],[31,48],[32,50],[32,47],[33,48],[32,51],[30,47],[16,51],[29,46],
    [15,52],[16,45],[17,44],[18,48],[19,53],[20,56],[21,53],[22,41],[24,40],[26,40],[26,55],[27,52],[29,56],[30,49],[31,52],[29,42],[25,43],[15,48],[23,53],[14,49],[16,50],[17,52],[13,48]];
const dSmsp = [[-74,11],[-74,13],[-73,9],[-73,13.5],[-72.5,8],[-72,7],[-71.5,5.5],[-70,14],[-70,12],[-69.5,10],[-69,8],[-68,7],[-67,7.5],[-67,10],[-67,13.5],[-66,18],[-65,19.5],[-65,17],[-64,19],[-64,15],[-63,16],[-63,18],[-62,13],[-62,10],[-61,17],[-61,12],[-61,8],[-60,15],[-60,10],[-60,18],[-59,8],[-59,13],[-59,7],[-58,11],[-58,15],[-58,17],[-57,7],[-57,13],[-56,14],[-56,16],[-55,14],[-55,12],[-55,6],[-54,16],[-54,13],[-54,8],[-53,18],[-53,14],[-53,10],[-52,15],[-52,12],[-52,6],[-51,17],[-51,13],[-50,10],[-50,17],[-50,15],[-49,16],[-49,11],[-49,13],[-48,13.5],[-48,15],[-47,13.5],[-48,11],
    [-65,15],[-63,13],[-61,15],[-60,12],[-59,15],[-58,13],[-57,15],[-56,12],[-55,16],[-55,9],[-53,12],[-52,17],[-51,15],[-50,12],[-60,7],[-62,8],[-62,15]];
const dIsrj = [[-52,-42],[-51,-41],[-51,-43],[-50,-40],[-50,-46],[-49,-39],[-49,-44],[-49,-46],[-48,-38],[-48,-40],[-48,-47],[-47,-38],[-47,-45],[-46,-41],[-46,-48],[-46,-39],[-45,-38],[-45,-42],[-45,-47],[-44,-42],[-44,-47],[-43,-38],[-43,-37],[-42,-39],[-42,-45],[-42,-51],[-41,-39],[-41,-45],[-41,-51],[-40,-40],[-40,-43],[-40,-47],[-40,-50.5],[-39,-40],[-39,-46],[-39,-50],[-38,-43],[-38,-46],[-37,-42],[-37,-44],[-37,-43.5],[-44,-44],[-21,-59],[-21,-60],[-20.5,-58],[-20,-60],[-20,-62],[-19,-59],[-19,-61],[-18.5,-62],[-18,-60],[-17,-61],[-16,-63],[-15,-62],[-15,-64],[-14,-62],[-14,-65],[-13,-64],[-13,-66],[-12.5,-65],[-16,-64],[-15.5,-66],[-15,-67],[-14,-68],[-13,-68],[-13,-67],[-12,-67],[-12,-65.5],[-14,-67],[-15,-65],
    [-48,-44],[-47,-47],[-46,-46],[-45,-45],[-44,-39],[-50,-41],[-40,-45],[-38,-41],[-39,-44],[-42,-43],[-14,-63],[-15,-66],[-13,-65],[-20,-59],[-17,-62]];
const dFm = [[-24,54],[-23,52],[-23,55],[-22,53],[-22,50],[-23,47],[-22,46],[-21,48],[-21,44],[-21.5,55],[-20,47],[-20,44],[-19,42],[-18.5,45],[-18,41],[-17,40],[-17,43],[-16,41],[-16,44],[-15,40],[-15,42.5],[-15,46],[-14,41],[-14,44],[-13,47],[-13,43],[-12,45],[-12,49],[-12,42],[-11,51],[-11,47],[-11,44],[-10,49],[-10,53],[-9.5,50],[-12,55],[-12.5,52],[-13,54],[-20,57],[-21,58],[-20,59],[-19,58],[-19,55.5],[-18,60],[-18,57],[-17,59],[-17,56],[-16,60],[-16,57],[-15,55],[-15,58],[-14.5,56],[-10.5,44],[-10,44.5],[-22.5,49],
    [-22,52],[-21,51],[-20,42.5],[-18,43],[-17,46],[-16,42],[-14,47],[-13,41],[-12,43],[-11,49],[-10,46],[-18,59],[-17,57.5],[-16,55],[-18.5,55],[-11,53],[-12,51],[-19,40]];
const dMnj = [[45,14],[46,11],[46,13.5],[47,14],[47,12],[48,15],[48,12],[49,9],[49,15],[50,13],[50,11],[50,7],[51,14],[51,12],[51,5],[51,9],[52,13],[52,3],[53,4],[53,8],[53,15],[54,15],[54,11],[54,5],[55,2],[55,8],[55,13],[56,15.5],[56,10],[56,4],[57,1],[57,3],[57,7],[58,14],[58,0],[58,9],[58,16],[59,1],[59,3],[59,6],[59,11],[60,2],[60,7],[60,14],[61,4],[61,10],[62,5],[62,10],[63,5],[63,9],[64,12],[64,7],[65,11],[65,9],[65,7],[66,10],[66,8],[66,6],[67,9],[67,8],[65,4.5],[17,5],[17,4],[23.5,1],
    [47,10],[49,12],[52,8],[52,11],[54,8],[55,4],[55,11],[56,7],[57,11],[58,5],[58,3],[60,5],[60,10],[61,7],[62,8],[63,7],[64,9],[66,11],[50,15],[56,13]];
const dRgpo = [[-33,-6],[-32,-6],[-31,-5],[-31,-7],[-30,-9],[-30,-6],[-30,-4],[-29,-3],[-29,-8],[-29,-10],[-28,-5],[-28,-7],[-28,-10],[-27,-1.5],[-27,-4],[-27,-6],[-27,-9],[-26,-2],[-26,-5],[-26,-8],[-26,-12],[-25,-3],[-25,-7],[-25,-10],[-25,-13],[-24,-2],[-24,-5],[-24,-8],[-24,-11],[-24,-17],[-24,-16],[-23,-3],[-23,-6],[-23,-10],[-23,-15],[-22,-7],[-22,-12],[-22,-5],[-21,-9],[-21,-12],[-21,-5],[-20,-7],[-20,-10],[-20,-13],[-20,-17],[-19,-17.5],[-19,-5],[-19,-8],[-18,-10],[-18,-12],[-17.5,-6],[-17,-7],[-17,-9],[-13,-6],[-13,-7],[-12,-7.5],[-12,-8.5],[-15,-26],[-14,-27],[-14,-24],[-14,-22],[-13,-28],[-13,-25],[-13,-22],[-12,-27],[-12,-24],[-12,-21],[-11,-25],[-11,-22],[-11,-20],[-10,-24],[-10,-21],[-10,-19],[-9,-22],[-9,-16],[-10,-16],[-8,-21],[-7,-23],[-6,-23],[-5,-13],[-3.5,-24],[-3,-22],[2,-25],[2.5,-25],[2.5,-24],[5.5,-19.5],[14,-29],
    [-30,-7],[-29,-6],[-28,-3],[-27,-11],[-26,-10],[-25,-5],[-24,-13],[-23,-8],[-23,-12],[-22,-9],[-21,-7],[-20,-5],[-19,-11],[-18,-7],[-14,-23],[-13,-26],[-12,-25],[-11,-23],[-10,-22],[-9,-20],[-22,-14],[-19,-9]];
const dUnknown = [[-8.4,43],[18,5],[18,0],[19,6],[19,3],[18.5,-2.5],[20,4],[20,1],[20,7],[21,7],[21,9],[21,2],[21,-1],[22,6],[22,-2],[22,11],[23,0],[23,12],[23,-3],[24,13],[24,-1.5],[25,11],[25,-2],[26,0],[26,12],[27,12],[27,-0.5],[28,1],[28,13],[29,11],[29,1],[29,12],[30,2],[30,9],[30,5],[31,3],[31,8],[31,5],[32,7],[32,4],[32.5,5],[31,6],[19,-0.5],
    [-5,19],[-4,17],[-4,14],[-4,20],[-3,21],[-3,18],[-3,15.5],[-3,12],[-3,10],[-2,20],[-2,21],[-2,15],[-2,13],[-2,11],[-1,14],[-1,12],[-1.5,11],[-3.5,9.5],
    [-27,0],[-26,-2],[-23,-1],[-22,0],[-21,-2],[-20,-2],[-21,4],[-20,5],[-20,3],[-19,8],[-19,6],[-19,4],[-18,9],[-18,6],[-18,2],[-17,10],[-17,7],[-17,3],[-17,0],[-16,11],[-16,8],[-16,5],[-16,2],[-16,-2],[-15,9],[-15,6],[-15,3],[-15,0],[-15,-3],[-14,10],[-14,7],[-14,4],[-14,1],[-14,-3],[-13,8],[-13,5],[-13,2],[-13,-1],[-13,-4],[-12,6],[-12,3],[-12,0],[-12,-2],[-11,5],[-11,8],[-11,3],[-11,1],[-10,7],[-10,4],[-10,2],[-9,3],[-9,5],[-7,5],[-14,-5],
    [-11,-21],[-11,-22],[-8,-19],[-8,-22],[-7,-22],[-7,-24],[-6,-18],[-6,-15],[-5,-12],[-5,-17],[-5,-20],[-4,-15],[-4,-18],[-4,-21],[-3,-14],[-3,-17],[-3,-20],[-2,-15],[-2,-18],[-2,-21],[-1,-19],[-1,-22],[0,-18],[0,-22],[1,-18],[1,-21],[2,-17],[3,-16],
    [1,-39],[1.5,-43],[2,-41],[2,-45],[3,-35],[3,-44],[4,-34],[4,-41],[4,-46],[3,-46],[5,-32],[5,-36],[5,-39],[5,-43],[6,-31],[6,-34],[6,-44],[7,-33],[7,-36],[7,-46],[8,-31],[8,-35],[8,-37],[8,-41],[8,-47],[9,-33],[9,-38],[9,-44],[9,-47],[9,-49],[10,-40],[10,-43],[10,-46],[10,-50],[10,-51],[11,-47],[11,-44],[11,-49],[11,-31],[11,-36],[12,-29],[12,-33],[12,-37],[13,-30],[13,-34],[13,-31],[14,-31],[15,-29],[16,-30],[18,-29],[18,-31],[19,-27],[19,-32],[19,-33],[20,-28],[20,-30],[20,-32],[21,-26],[22,-27],[23,-26],[23,-25],[24,-30],[25,-30],[26,-29.5],[32,-30],[33,-30],
    [35,-23],[35,-26],[35,-30],[35,-33],[35,-36],[36,-25],[36,-28],[36,-37],[37,-24],[37,-33],[37,-36],[38,-24],[38,-26],[38,-35],[39,-22],[39,-37],[40,-23],[40,-39],[41,-21],[41,-38],[42,-20.5],[42,-40],[43,-22],[43,-37],[44,-21],[44,-39],[45,-20],[45,-25],[45,-38],[46,-22],[46,-41],[46,-43],[47,-20],[47,-38],[48,-23],[48,-36],[49,-21],[49,-38],[50,-22],[50,-35],[50,-37],[51,-24],[51,-27],[51,-33],[51,-36],[52,-25],[52,-29],[52,-33],[53,-27],[53,-30],[53,-35],[49,-34],
    [18,3],[19,1],[20,-1],[21,5],[22,-0.5],[23,-1],[24,0],[25,-1],[26,12.5],[27,13],[28,-0.5],[29,3],[30,7],[30,11],[31,10],[32,2],[23,10],[22,8],[19,8],[25,13],[-4,15],[-3,13],[-2,17],[-1.5,19],
    [-18,4],[-17,5],[-16,7],[-15,11],[-15,-1],[-14,-1],[-13,0],[-12,2],[-12,-3],[-11,-1],[-10,5],[-9,1],[-8,4],[-14,3],[-13,7],[-12,9],[-11,6],[-5,-14],[-4,-13],[-3,-19],[-2,-16],[-1,-17],[0,-20],
    [2,-43],[3,-40],[4,-43],[5,-45],[6,-37],[7,-39],[7,-43],[8,-33],[8,-44],[9,-35],[9,-41],[10,-48],[11,-41],[12,-31],[10,-32],[11,-34],[13,-36],[6,-41],[4,-37],[9,-51],
    [36,-31],[36,-34],[37,-26],[37,-29],[38,-22],[38,-38],[39,-39],[40,-21],[41,-40],[43,-39],[44,-23],[45,-40],[46,-38],[47,-24],[47,-41],[48,-21],[49,-36],[50,-25],[51,-30],[52,-27],[52,-35],[53,-32],[50,-34]];

const narrowFont = "'Noto Sans Mono CJK SC', 'DejaVu Sans Mono', monospace";

// Box around the plot area, drawn after the points
const framePlugin = {
    id: 'frame',
    afterDraw(chart) {
        const { ctx, chartArea: a } = chart;
        ctx.save();
        ctx.strokeStyle = '#000';
        ctx.lineWidth = 2.5;
        ctx.strokeRect(a.left, a.top, a.right - a.left, a.bottom - a.top);
        ctx.restore();
    }
};

// Matplotlib style legend sitting inside the axes
const insideLegendPlugin = {
    id: 'insideLegend',
    afterDatasetsDraw(chart, args, opts) {
        const { ctx, chartArea: a } = chart;
        const w = 217, h = 299;
        const left = opts.side === 'right' ? a.right - 15 - w : a.left + 15;
        const top = a.top + 14;
        ctx.save();
        ctx.beginPath();
        ctx.roundRect(left, top, w, h, 6);
        ctx.fillStyle = 'rgba(255,255,255,.8)';
        ctx.fill();
        ctx.strokeStyle = '#d6d6d6';
        ctx.lineWidth = 2;
        ctx.stroke();
        ctx.font = '30px ' + narrowFont;
        ctx.textBaseline = 'middle';
        chart.data.datasets.forEach(function(ds, i) {
            const y = top + 28 + i * 41;
            ctx.fillStyle = ds.backgroundColor;
            ctx.strokeStyle = ds.borderColor;
            ctx.lineWidth = ds.pointBorderWidth;
            ctx.beginPath();
            if (ds.pointStyle === 'crossRot') {
                const d = 8;
                ctx.moveTo(left + 43 - d, y - d);
                ctx.lineTo(left + 43 + d, y + d);
                ctx.moveTo(left + 43 - d, y + d);
                ctx.lineTo(left + 43 + d, y - d);
                ctx.stroke();
            } else {
                ctx.arc(left + 43, y, 9, 0, Math.PI * 2);
                ctx.fill();
            }
            ctx.fillStyle = '#000';
            ctx.fillText(ds.label, left + 99, y - 3);
        });
        ctx.restore();
    }
};

function axisOptions(range, isX) {
    return {
        type: 'linear',
        min: range[0],
        max: range[1],
        afterFit: function(scale) {
            if (isX) { scale.height = 96; } else { scale.width = 75; }
        },
        grid: { color: '#d4d4d4', lineWidth: 1.5, tickColor: '#000', tickWidth: 2, tickLength: 10 },
        border: { display: false, dash: [9, 4] },
        ticks: {
            stepSize: 20,
            includeBounds: false,
            autoSkip: false,
            maxRotation: 0,
            padding: 6,
            color: '#000',
            font: { family: narrowFont, size: 26 },
            callback: function(value) { return String(value).replace('-', '\u2212'); }
        }
    };
}

function drawPanel(id, box, xRange, yRange, series, legendSide) {
    const canvas = document.getElementById(id);
    canvas.style.left = (box.left - 75) + 'px';
    canvas.style.top = (box.top - 24) + 'px';
    canvas.width = box.right - box.left + 75 + 22;
    canvas.height = box.bottom - box.top + 24 + 96;
    new Chart(canvas.getContext('2d'), {
        type: 'scatter',
        data: {
            datasets: series.map(function(points, i) {
                const isCross = classLabels[i] === 'Unknown';
                return {
                    label: classLabels[i],
                    data: points.map(function(p) { return { x: p[0], y: p[1] }; }),
                    order: classLabels.length - i,
                    pointStyle: isCross ? 'crossRot' : 'circle',
                    pointRadius: isCross ? 13 : 10,
                    pointHoverRadius: isCross ? 13 : 10,
                    pointBorderWidth: isCross ? 3.4 : 0,
                    backgroundColor: classColors[i],
                    borderColor: classColors[i]
                };
            })
        },
        options: {
            responsive: false,
            animation: false,
            devicePixelRatio: 1,
            layout: { padding: { top: 24, right: 22, left: 0, bottom: 0 } },
            plugins: {
                legend: { display: false },
                tooltip: { enabled: false },
                insideLegend: { side: legendSide }
            },
            scales: { x: axisOptions(xRange, true), y: axisOptions(yRange, false) }
        },
        plugins: [framePlugin, insideLegendPlugin]
    });
}

document.addEventListener('DOMContentLoaded', function() {
    drawPanel('panelA', { left: 75, right: 1437, top: 24, bottom: 1034 }, [-69.1, 46.1], [-71.6, 55.8],
        [aRvgpo, aSmsp, aIsrj, aFm, aMnj, aRgpo, aUnknown], 'left');
    drawPanel('panelB', { left: 1987, right: 3350, top: 24, bottom: 1034 }, [-81.9, 75.7], [-61.4, 76.1],
        [bRvgpo, bSmsp, bIsrj, bFm, bMnj, bRgpo, bUnknown], 'right');
    drawPanel('panelC', { left: 75, right: 1437, top: 1334, bottom: 2344 }, [-74.6, 66.4], [-68, 68],
        [cRvgpo, cSmsp, cIsrj, cFm, cMnj, cRgpo, cUnknown], 'left');
    drawPanel('panelD', { left: 1987, right: 3350, top: 1334, bottom: 2344 }, [-80.9, 74], [-74.8, 67.2],
        [dRvgpo, dSmsp, dIsrj, dFm, dMnj, dRgpo, dUnknown], 'right');
});
</script>
</body>
</html>
